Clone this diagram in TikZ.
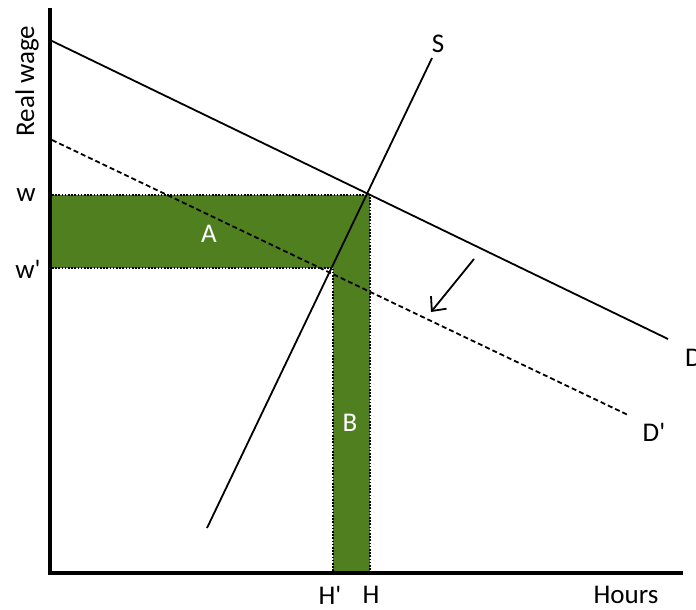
\documentclass[tikz,border=0pt]{standalone}
\usepackage{fontspec}
\setmainfont{Carlito}[Ligatures=TeXOff]
\usetikzlibrary{arrows.meta}
\definecolor{areagreen}{RGB}{80,127,32}
\begin{document}
\begin{tikzpicture}[x=1pt,y=-1pt,
  lbl/.style={font=\fontsize{27}{32}\selectfont, inner sep=0pt},
  curve/.style={line width=1.8pt},
  axis/.style={line width=4.8pt},
  dotb/.style={line width=1.6pt, dash pattern=on 1.6pt off 1.6pt}]
\useasboundingbox (0,0) rectangle (696,610);
% coordinates
\coordinate (origin) at (50,573);
\coordinate (ytop) at (50,8);
\coordinate (xend) at (683,573);
\coordinate (Dstart) at (52,41);
\coordinate (Dend) at (668,339);
\coordinate (Dpstart) at (52,140);
\coordinate (Dpend) at (628,415);
\coordinate (Sbot) at (207,528);
\coordinate (Stop) at (432,58);
\coordinate (Eq) at (370,195);
\coordinate (Eqp) at (333,268);
\coordinate (wl) at (52,195);
\coordinate (wpl) at (52,268);
\coordinate (Hb) at (370,571);
\coordinate (Hpb) at (333,571);
\coordinate (arrS) at (474,259);
\coordinate (arrE) at (431,312);
% green areas
\fill[areagreen] (wl) rectangle (Eq |- wpl);
\fill[areagreen] (Eqp) rectangle (Hb);
% dotted borders
\draw[dotb] (wl) -- (Eq) -- (Hb);
\draw[dotb] (wpl) -- (Eqp) -- (Hpb);
% curves
\draw[curve] (Dstart) -- (Dend);
\draw[curve, dash pattern=on 5pt off 3pt] (Dpstart) -- (Dpend);
\draw[curve] (Sbot) -- (Stop);
\draw[line width=1.8pt, -{Straight Barb[length=11pt,width=20pt,line width=1.8pt]}] (arrS) -- (arrE);
% axes
\draw[axis] (ytop) -- (origin |- 0,575);
\draw[axis] (47.6,573) -- (xend);
% labels
\node[lbl, rotate=90] (ylab) at (27,81) {Real wage};
\node[lbl] (wlab) at (26,195) {w};
\node[lbl] (wplab) at (28,269) {w'};
\node[lbl, white] (Alab) at (209,234) {A};
\node[lbl, white] (Blab) at (350,423) {B};
\node[lbl] (Hplab) at (330,595) {H'};
\node[lbl] (Hlab) at (371,595) {H};
\node[lbl] (xlab) at (626,595) {Hours};
\node[lbl] (Slab) at (438,44) {S};
\node[lbl, anchor=west] (Dlab) at (685,358) {D};
\node[lbl] (Dplab) at (654,432) {D'};
\end{tikzpicture}
\end{document}
